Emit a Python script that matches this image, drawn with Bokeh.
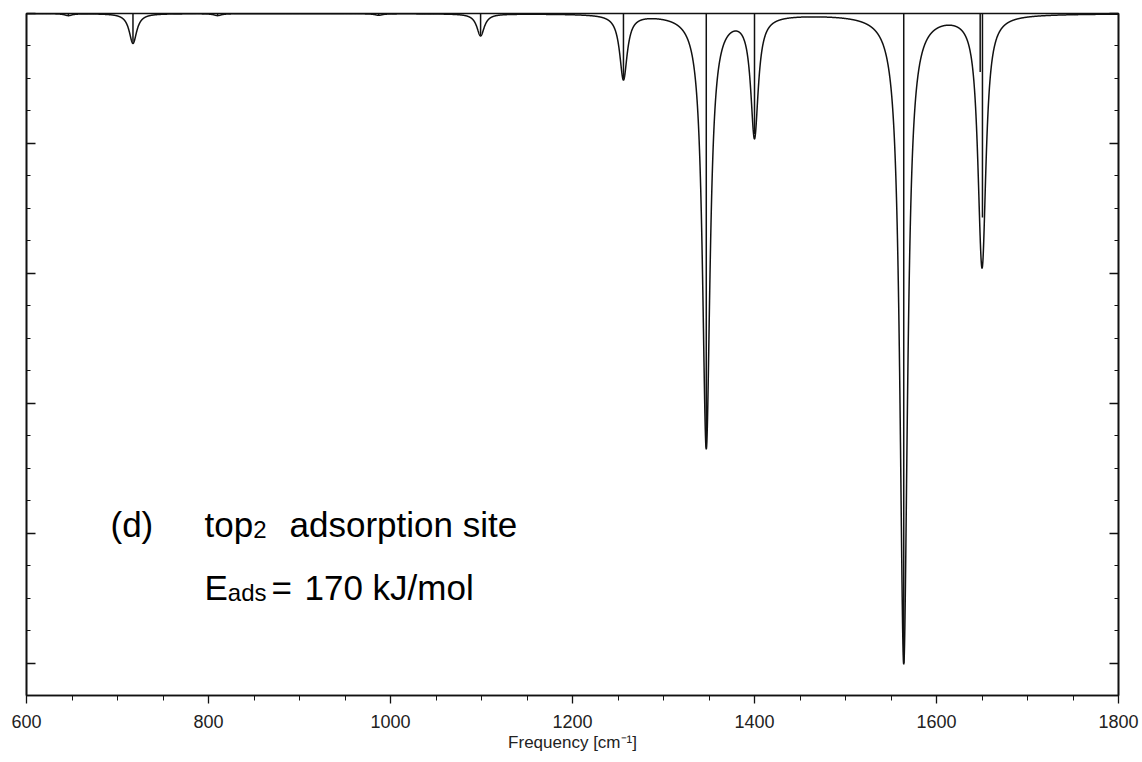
import numpy as np
from bokeh.plotting import figure
from bokeh.models import (Range1d, LinearAxis, FixedTicker, Label, ColumnDataSource,
                          CustomLabelingPolicy)
from bokeh.embed import file_html
from bokeh.resources import INLINE

# ---- data ----
peak_freqs = [646, 717, 810, 987, 1099, 1256, 1347, 1400, 1564, 1648.0, 1650.5]
peak_ints = [0.015, 0.23, 0.015, 0.012, 0.17, 0.50, 3.34, 0.93, 5.0, 0.45, 1.57]
fwhm = 10.0  # Lorentzian broadening [cm-1]

x_ticks = [600, 800, 1000, 1200, 1400, 1600, 1800]
x_minor = list(range(600, 1801, 50))
y_ticks = [0, 1, 2, 3, 4, 5]
y_minor = [i * 0.25 for i in range(0, 22)]

# broadened spectrum built from the stick list
grid = np.union1d(np.arange(600.0, 1800.05, 0.1), np.array(peak_freqs, dtype=float))
spec = np.zeros_like(grid)
for f, a in zip(peak_freqs, peak_ints):
    spec += a / (1.0 + (2.0 * (grid - f) / fwhm) ** 2)

FONT = "Liberation Sans"

p = figure(frame_width=1092, frame_height=682,
           x_range=Range1d(600, 1800), y_range=Range1d(5.25, 0),
           output_backend="svg", toolbar_location=None,
           x_axis_location=None, y_axis_location=None,
           min_border_left=26, min_border_right=24,
           min_border_top=13, min_border_bottom=60)
p.outline_line_color = "#111111"
p.outline_line_width = 1.6
p.background_fill_color = "white"
p.border_fill_color = "white"
for g in p.grid:
    g.visible = False

xb = LinearAxis(ticker=FixedTicker(ticks=x_ticks, minor_ticks=x_minor),
                axis_label="Frequency [cm\u207b\u00b9]")
xb.major_label_overrides = {t: str(t) for t in x_ticks}
xb.major_tick_out = 8
xb.major_tick_in = 0
xb.minor_tick_out = 5
xb.minor_tick_in = 0
xb.axis_line_color = "#111111"
xb.axis_line_width = 1.6
xb.major_tick_line_color = "#111111"
xb.major_tick_line_width = 1.3
xb.minor_tick_line_color = "#111111"
xb.minor_tick_line_width = 1.0
xb.major_label_text_font = FONT
xb.major_label_text_font_size = "18px"
xb.major_label_text_color = "#222222"
xb.major_label_standoff = 11
xb.axis_label_text_font = FONT
xb.axis_label_text_font_size = "17px"
xb.axis_label_text_font_style = "normal"
xb.axis_label_text_color = "#222222"
xb.axis_label_standoff = 2
p.add_layout(xb, "below")

no_labels = CustomLabelingPolicy(code="for (const i of [...indices]) { indices.unset(i) }\nreturn indices")
for side in ("left", "right"):
    ya = LinearAxis(ticker=FixedTicker(ticks=y_ticks, minor_ticks=y_minor))
    ya.major_label_policy = no_labels
    ya.major_tick_in = 9
    ya.major_tick_out = 0
    ya.minor_tick_in = 4
    ya.minor_tick_out = 0
    ya.axis_line_color = "#111111"
    ya.axis_line_width = 1.6
    ya.major_tick_line_color = "#111111"
    ya.major_tick_line_width = 1.3
    ya.minor_tick_line_color = "#111111"
    ya.minor_tick_line_width = 1.0
    ya.major_label_standoff = 0
    p.add_layout(ya, side)

src = ColumnDataSource(dict(x=grid, y=spec))
p.line("x", "y", source=src, line_color="#111111", line_width=1.5)
sticks = ColumnDataSource(dict(x=peak_freqs, y0=[0] * len(peak_freqs), y1=peak_ints))
p.segment(x0="x", y0="y0", x1="x", y1="y1", source=sticks,
          line_color="#111111", line_width=1.5)

# ---- annotation ----
FS = 35
SUB = 24
px = 1092 / 1200.0   # pixels per cm-1
py = 682 / 5.25      # pixels per unit

def xd(pix):
    return 600 + (pix - 26) / px

def yd(pix):
    return (pix - 13) / py

base1 = 524
base2 = 587
lab_kw = dict(text_font=FONT, text_color="black", text_baseline="alphabetic",
              text_align="left")
p.add_layout(Label(x=xd(110), y=yd(base1), text="(d)", text_font_size=f"{FS}px", **lab_kw))
p.add_layout(Label(x=xd(204), y=yd(base1), text="top", text_font_size=f"{FS}px", **lab_kw))
p.add_layout(Label(x=xd(204 + 1.39 * FS), y=yd(base1 + 5), text="2",
                   text_font_size=f"{SUB}px", **lab_kw))
p.add_layout(Label(x=xd(289), y=yd(base1), text="adsorption site",
                   text_font_size=f"{FS}px", **lab_kw))

p.add_layout(Label(x=xd(204), y=yd(base2), text="E", text_font_size=f"{FS}px", **lab_kw))
p.add_layout(Label(x=xd(204 + 0.667 * FS), y=yd(base2 + 5), text="ads",
                   text_font_size=f"{SUB}px", **lab_kw))
p.add_layout(Label(x=xd(271), y=yd(base2), text="=", text_font_size=f"{FS}px", **lab_kw))
p.add_layout(Label(x=xd(304), y=yd(base2), text="170 kJ/mol",
                   text_font_size=f"{FS}px", **lab_kw))

open("out.html", "w").write(file_html(p, INLINE))
